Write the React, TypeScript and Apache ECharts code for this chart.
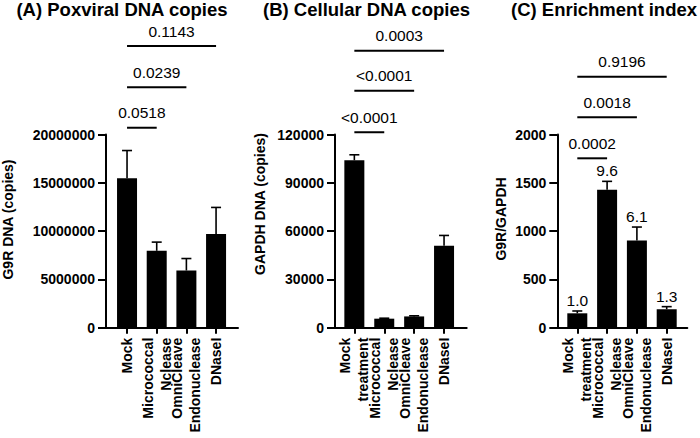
import React, { useEffect, useRef } from "react";
import * as echarts from "echarts";

const FONT = '"Liberation Sans", Arial, Helvetica, sans-serif';

// Categories
const catsA = ["Mock", "Micrococcal\nNclease", "OmniCleave\nEndonuclease", "DNaseI"];
const catsBC = ["Mock\ntreatment", "Micrococcal\nNclease", "OmniCleave\nEndonuclease", "DNaseI"];

// (A) Poxviral DNA copies
const poxMean = [15460000, 7960000, 5920000, 9690000];
const poxErr = [2880000, 900000, 1240000, 2760000];
const poxTicks = [0, 5000000, 10000000, 15000000, 20000000];
const poxP = ["0.0518", "0.0239", "0.1143"];
const poxPairs = [[0, 1], [0, 2], [0, 3]];
const poxLevels = [20700000, 24890000, 29160000];

// (B) Cellular DNA copies
const gapdhMean = [104000, 5600, 7000, 50900];
const gapdhErr = [3400, 300, 400, 6400];
const gapdhTicks = [0, 30000, 60000, 90000, 120000];
const gapdhP = ["<0.0001", "<0.0001", "0.0003"];
const gapdhPairs = [[0, 1], [0, 2], [0, 3]];
const gapdhLevels = [121400, 147200, 172000];

// (C) Enrichment index
const enrichMean = [149, 1429, 903, 191];
const enrichErr = [24, 86, 139, 27];
const enrichFold = ["1.0", "9.6", "6.1", "1.3"];
const enrichTicks = [0, 500, 1000, 1500, 2000];
const enrichP = ["0.0002", "0.0018", "0.9196"];
const enrichPairs = [[0, 1], [0, 2], [0, 3]];
const enrichLevels = [1753.6, 2178, 2598];

const panels = [
  {
    title: "(A) Poxviral DNA copies", titleX: 122, yName: "G9R DNA (copies)", nameX: 7.5, nameY: 219.5,
    cats: catsA, mean: poxMean, err: poxErr, ticks: poxTicks, p: poxP, pairs: poxPairs, levels: poxLevels, fold: null as string[] | null,
    frame: { left: 106, width: 132 }, bars: { left: 112.2, width: 118.7 },
  },
  {
    title: "(B) Cellular DNA copies", titleX: 366.5, yName: "GAPDH DNA (copies)", nameX: 259.5, nameY: 204,
    cats: catsBC, mean: gapdhMean, err: gapdhErr, ticks: gapdhTicks, p: gapdhP, pairs: gapdhPairs, levels: gapdhLevels, fold: null as string[] | null,
    frame: { left: 335, width: 131.7 }, bars: { left: 339.4, width: 119.6 },
  },
  {
    title: "(C) Enrichment index", titleX: 604, yName: "G9R/GAPDH", nameX: 500.5, nameY: 219,
    cats: catsBC, mean: enrichMean, err: enrichErr, ticks: enrichTicks, p: enrichP, pairs: enrichPairs, levels: enrichLevels, fold: enrichFold,
    frame: { left: 557.3, width: 130 }, bars: { left: 562.4, width: 119.2 },
  },
];

const TOP = 134.5;
const HEIGHT = 193.2;

export default function App() {
  const ref = useRef<HTMLDivElement>(null);
  useEffect(() => {
    if (!ref.current) return;
    const chart = echarts.init(ref.current, null, { renderer: "svg" });
    const grid: any[] = [];
    const xAxis: any[] = [];
    const yAxis: any[] = [];
    const series: any[] = [];
    const graphic: any[] = [];

    panels.forEach((pn, i) => {
      const fi = i * 2;
      const bi = i * 2 + 1;
      const yMax = pn.ticks[pn.ticks.length - 1];
      const interval = pn.ticks[1] - pn.ticks[0];
      grid.push({ left: pn.frame.left, width: pn.frame.width, top: TOP, height: HEIGHT });
      grid.push({ left: pn.bars.left, width: pn.bars.width, top: TOP, height: HEIGHT });
      xAxis.push({
        gridIndex: fi, type: "value", min: 0, max: 1,
        axisLine: { show: true, lineStyle: { color: "#000", width: 2 } },
        axisTick: { show: false }, axisLabel: { show: false }, splitLine: { show: false },
      });
      xAxis.push({
        gridIndex: bi, type: "category", data: pn.cats,
        axisLine: { show: false },
        axisTick: { show: true, alignWithLabel: true, length: 6, lineStyle: { color: "#000", width: 2 } },
        axisLabel: {
          interval: 0, rotate: 90, margin: 10, color: "#000", fontFamily: FONT,
          fontWeight: "bold", fontSize: 14, lineHeight: 18,
        },
        splitLine: { show: false },
      });
      yAxis.push({
        gridIndex: fi, type: "value", min: 0, max: yMax, interval,
        axisLine: { show: true, lineStyle: { color: "#000", width: 2 } },
        axisTick: { show: true, length: 8, lineStyle: { color: "#000", width: 2 } },
        axisLabel: {
          margin: 11, color: "#000", fontFamily: FONT, fontWeight: "bold", fontSize: 14,
          formatter: (v: number) => String(v),
        },
        splitLine: { show: false },
      });
      yAxis.push({ gridIndex: bi, type: "value", min: 0, max: yMax, show: false, splitLine: { show: false } });

      series.push({
        type: "bar", xAxisIndex: bi, yAxisIndex: bi, data: pn.mean, barWidth: 20,
        itemStyle: { color: "#000" }, silent: true,
      });
      const fold = pn.fold;
      series.push({
        type: "custom", xAxisIndex: bi, yAxisIndex: bi, z: 5,
        data: pn.mean.map((m, k) => [k, m, pn.err[k]]),
        encode: { x: 0, y: 1 },
        renderItem: (params: any, api: any) => {
          const k = api.value(0);
          const m = api.value(1);
          const e = api.value(2);
          const base = api.coord([k, m]);
          const top = api.coord([k, m + e]);
          const children: any[] = [
            { type: "line", shape: { x1: base[0], y1: base[1], x2: top[0], y2: top[1] }, style: { stroke: "#000", lineWidth: 1.6 } },
            { type: "line", shape: { x1: top[0] - 5, y1: top[1], x2: top[0] + 5, y2: top[1] }, style: { stroke: "#000", lineWidth: 1.6 } },
          ];
          if (fold) {
            children.push({
              type: "text", x: top[0], y: top[1] - 10.5,
              style: { text: fold[params.dataIndex], font: `15.5px ${FONT}`, fill: "#000", align: "center", verticalAlign: "middle" },
            });
          }
          return { type: "group", children };
        },
      });
      const labels = pn.p;
      series.push({
        type: "custom", xAxisIndex: bi, yAxisIndex: bi, z: 5, clip: false,
        data: pn.pairs.map((pr, k) => [pr[0], pr[1], pn.levels[k]]),
        encode: { x: [0, 1], y: 2 },
        renderItem: (params: any, api: any) => {
          const a = api.coord([api.value(0), api.value(2)]);
          const b = api.coord([api.value(1), api.value(2)]);
          return {
            type: "group",
            children: [
              { type: "line", shape: { x1: a[0], y1: a[1], x2: b[0], y2: b[1] }, style: { stroke: "#000", lineWidth: 2 } },
              {
                type: "text", x: (a[0] + b[0]) / 2, y: a[1] - 15,
                style: { text: labels[params.dataIndex], font: `15.5px ${FONT}`, fill: "#000", align: "center", verticalAlign: "middle" },
              },
            ],
          };
        },
      });

      graphic.push({
        type: "text", x: pn.titleX, y: 9.5,
        style: { text: pn.title, font: `bold 18.5px ${FONT}`, fill: "#000", align: "center", verticalAlign: "middle" },
      });
      graphic.push({
        type: "text", x: pn.nameX, y: pn.nameY, rotation: Math.PI / 2,
        style: { text: pn.yName, font: `bold 14px ${FONT}`, fill: "#000", align: "center", verticalAlign: "middle" },
      });
    });

    chart.setOption({
      animation: false,
      backgroundColor: "#fff",
      grid, xAxis, yAxis, series, graphic,
    });
    return () => chart.dispose();
  }, []);
  return <div ref={ref} style={{ position: "fixed", left: 0, top: 0, width: 700, height: 438, background: "#fff" }} />;
}
